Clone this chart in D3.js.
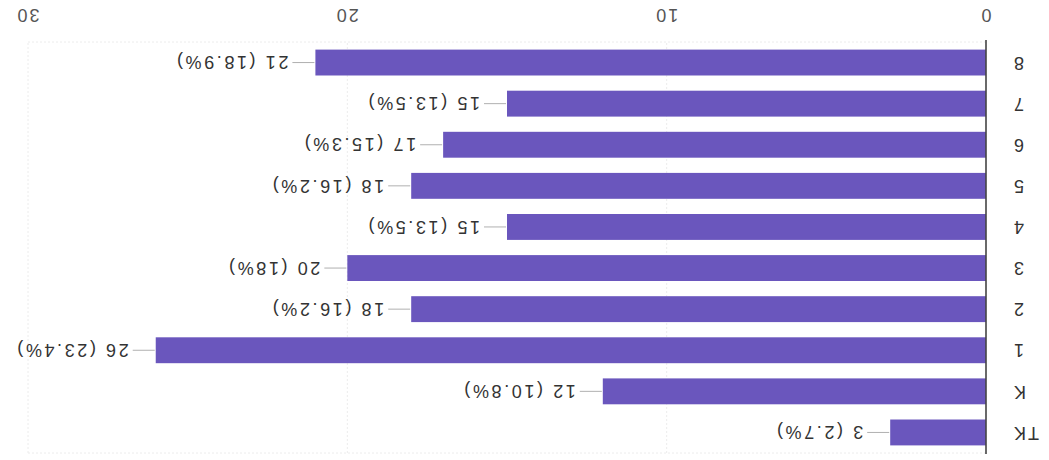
<!DOCTYPE html>
<html>
<head>
<meta charset="utf-8">
<script src="https://cdn.jsdelivr.net/npm/d3@7"></script>
<style>
  html, body { margin: 0; padding: 0; background: #ffffff; }
  svg { display: block; }
  text { font-family: "Liberation Sans", Arial, sans-serif; }
</style>
</head>
<body>
<script>
const categories = ["TK", "K", "1", "2", "3", "4", "5", "6", "7", "8"];
const values = [3, 12, 26, 18, 20, 15, 18, 17, 15, 21];
const percents = ["2.7", "10.8", "23.4", "16.2", "18", "13.5", "16.2", "15.3", "13.5", "18.9"];
const tickValues = [0, 10, 20, 30];

const W = 1049, H = 460;
const plot = { left: 63, right: 1021, top: 7, bottom: 418 };

const svg = d3.select("body").append("svg")
  .attr("width", W).attr("height", H);

// whole chart is rendered upside down, as in the reference
const g = svg.append("g")
  .attr("transform", `rotate(180 ${W / 2} ${H / 2})`);

const x = d3.scaleLinear().domain([0, 30]).range([plot.left, plot.right]);
const y = d3.scaleBand().domain(categories)
  .range([plot.top, plot.bottom])
  .paddingInner(0.37).paddingOuter(0.185);

// gridlines
const grid = g.append("g").attr("stroke", "#ececec").attr("stroke-width", 1)
  .attr("stroke-dasharray", "2,2");
grid.selectAll("line.v").data(tickValues.filter(d => d > 0)).join("line")
  .attr("x1", d => x(d)).attr("x2", d => x(d))
  .attr("y1", plot.top).attr("y2", plot.bottom);
grid.append("line").attr("x1", plot.left).attr("x2", plot.right)
  .attr("y1", plot.top).attr("y2", plot.top);
grid.append("line").attr("x1", plot.left).attr("x2", plot.right)
  .attr("y1", plot.bottom).attr("y2", plot.bottom);

// bottom axis (tick labels only)
const xAxis = g.append("g")
  .attr("transform", `translate(0,${plot.bottom})`)
  .call(d3.axisBottom(x).tickValues(tickValues).tickSize(0).tickPadding(20));
xAxis.select(".domain").remove();
xAxis.selectAll("text")
  .attr("font-size", 18).attr("fill", "#555")
  .attr("letter-spacing", "2px")
  .attr("font-family", "'Liberation Sans', Arial, sans-serif");

// bars
g.append("g").selectAll("rect").data(values).join("rect")
  .attr("x", x(0))
  .attr("y", (d, i) => y(categories[i]))
  .attr("width", d => x(d) - x(0))
  .attr("height", y.bandwidth())
  .attr("fill", "#6a56bd");

// leader lines and value labels
const lab = g.append("g");
lab.selectAll("line").data(values).join("line")
  .attr("x1", d => x(d) + 1).attr("x2", d => x(d) + 23)
  .attr("y1", (d, i) => y(categories[i]) + y.bandwidth() / 2)
  .attr("y2", (d, i) => y(categories[i]) + y.bandwidth() / 2)
  .attr("stroke", "#b0b0b0").attr("stroke-width", 1);
lab.selectAll("text").data(values).join("text")
  .attr("x", d => x(d) + 27)
  .attr("y", (d, i) => y(categories[i]) + y.bandwidth() / 2)
  .attr("dy", "0.35em")
  .attr("font-size", 18).attr("fill", "#333")
  .attr("letter-spacing", "2.6px")
  .text((d, i) => `${d} (${percents[i]}%)`);

// left axis
const yAxis = g.append("g")
  .attr("transform", `translate(${plot.left},0)`)
  .call(d3.axisLeft(y).tickSize(0).tickPadding(26));
yAxis.select(".domain").attr("stroke", "#444").attr("stroke-width", 1.6)
  .attr("d", `M0,${plot.top - 1}V${plot.bottom + 2}`);
yAxis.selectAll("text")
  .attr("font-size", 18).attr("fill", "#333")
  .attr("letter-spacing", "2px")
  .attr("font-family", "'Liberation Sans', Arial, sans-serif");
</script>
</body>
</html>
